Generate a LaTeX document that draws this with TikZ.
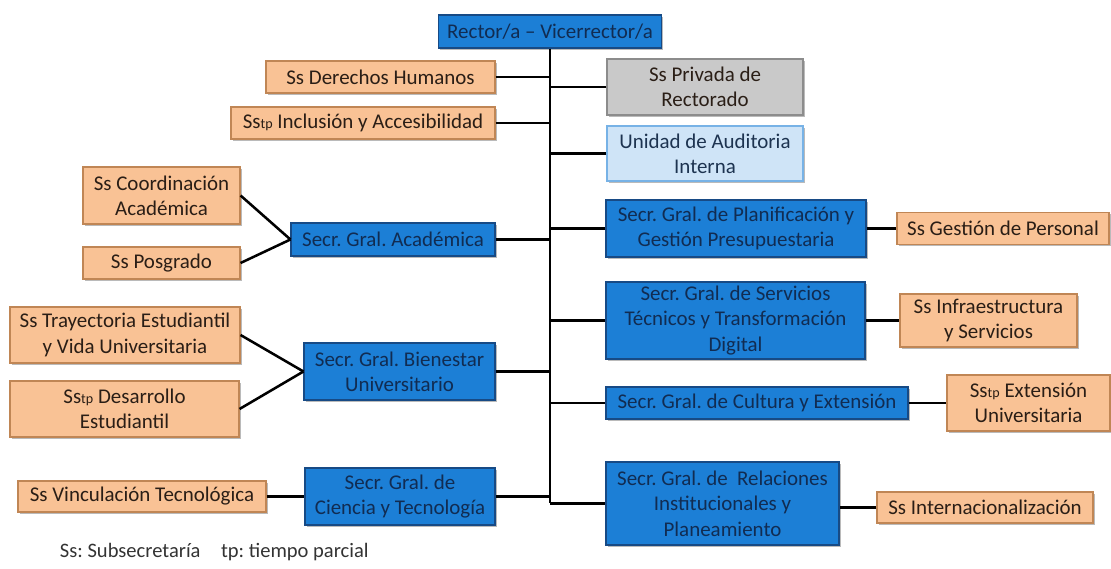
\documentclass[tikz,border=0pt]{standalone}
\usepackage{fontspec}
\setmainfont{Carlito}
\usepackage{xcolor}
\usetikzlibrary{shadows}
\frenchspacing

\definecolor{subfill}{HTML}{F9C295}
\definecolor{subdraw}{HTML}{C08655}
\definecolor{subtext}{HTML}{2A1E16}
\definecolor{secfill}{HTML}{1C7FD6}
\definecolor{secdraw}{HTML}{174A85}
\definecolor{sectext}{HTML}{112C52}
\definecolor{privfill}{HTML}{C9C9C9}
\definecolor{audfill}{HTML}{CFE4F7}
\definecolor{audtext}{HTML}{1D3350}

\newcommand{\tp}{{\fontsize{10}{10}\selectfont tp}}

\tikzset{
  sz/.style 2 args={minimum width=#1*0.025cm, minimum height=#2*0.025cm},
  box/.style={rectangle, draw, line width=0.8pt, align=center, inner sep=0pt,
    font=\fontsize{14.9}{18}\selectfont,
    drop shadow={shadow xshift=1.2pt, shadow yshift=-1.2pt, fill=black!45, opacity=0.6}},
  subbox/.style={box, fill=subfill, draw=subdraw, text=subtext},
  secbox/.style={box, fill=secfill, draw=secdraw, text=sectext},
  privbox/.style={box, fill=privfill, draw=black!45, text=subtext},
  audbox/.style={box, fill=audfill, draw=secfill!60, text=audtext},
  link/.style={line width=1.8pt, black}
}

\begin{document}
\begin{tikzpicture}[x=0.025cm, y=-0.025cm]
	\useasboundingbox (0,0) rectangle (1111,569);
	
	% top
	\node[secbox, sz={223}{33}] (rector) at (550,31.5) {Rector/a -- Vicerrector/a};
	\coordinate (bot) at (550,503.5);
	
	% left column
	\node[subbox, sz={229}{32}] (derechos) at (380.5,77) {Ss Derechos Humanos};
	\node[subbox, sz={264}{32}] (inclusion) at (363,123) {Ss\tp{} Inclusión y Accesibilidad};
	
	\node[subbox, sz={157}{57}] (coordinacion) at (161.5,195.5) {Ss Coordinación\\Académica};
	\node[subbox, sz={157}{32}] (posgrado) at (161.5,263) {Ss Posgrado};
	\node[secbox, sz={204}{33}] (academica) at (393,239.5) {Secr. Gral. Académica};
	
	\node[subbox, sz={230}{56}] (trayectoria) at (125,335) {Ss Trayectoria Estudiantil\\y Vida Universitaria};
	\node[subbox, sz={229}{56}] (desarrollo) at (124.5,409) {Ss\tp{} Desarrollo\\Estudiantil};
	\node[secbox, sz={191}{57}] (bienestar) at (399.5,371.5) {Secr. Gral. Bienestar\\Universitario};
	
	\node[subbox, sz={248}{31}] (vinculacion) at (142,496.5) {Ss Vinculación Tecnológica};
	\node[secbox, sz={190}{57}] (ciencia) at (400,496.5) {Secr. Gral. de\\Ciencia y Tecnología};
	
	% right column
	\node[privbox, sz={196}{56}] (privada) at (705,87) {Ss Privada de\\Rectorado};
	\node[audbox, sz={196}{55}] (auditoria) at (705,153.5) {Unidad de Auditoria\\Interna};
	
	\node[secbox, sz={260}{57}] (planificacion) at (736,228.5) {Secr. Gral. de Planificación y\\Gestión Presupuestaria};
	\node[subbox, sz={212}{32}] (gestion) at (1003,228.5) {Ss Gestión de Personal};
	
	\node[secbox, sz={259}{77}] (servicios) at (735.5,320.5) {Secr. Gral. de Servicios\\Técnicos y Transformación\\Digital};
	\node[subbox, sz={177}{53}] (infraestructura) at (988.5,320.5) {Ss Infraestructura\\y Servicios};
	
	\node[secbox, sz={302}{32}] (cultura) at (757,403) {Secr. Gral. de Cultura y Extensión};
	\node[subbox, sz={163}{56}] (extension) at (1028.5,403) {Ss\tp{} Extensión\\Universitaria};
	
	\node[secbox, sz={233}{83}] (relaciones) at (722.5,503.5) {Secr. Gral. de~~Relaciones\\Institucionales y\\Planeamiento};
	\node[subbox, sz={216}{31}] (internacional) at (985,507.5) {Ss Internacionalización};
	
	% footer
	\node[anchor=west, text=black!80, font=\fontsize{14.6}{17}\selectfont] (nota) at (55,552) {Ss: Subsecretaría\quad tp: tiempo parcial};
	
	% spine
	\draw[link] (rector.south) -- (bot);
	
	\draw[link] (derechos.east) -- (derechos -| bot);
	\draw[link] (inclusion.east) -- (inclusion -| bot);
	\draw[link] (academica.east) -- (academica -| bot);
	\draw[link] (bienestar.east) -- (bienestar -| bot);
	\draw[link] (ciencia.east) -- (ciencia -| bot);
	
	\draw[link] (privada.west) -- (privada -| bot);
	\draw[link] (auditoria.west) -- (auditoria -| bot);
	\draw[link] (planificacion.west) -- (planificacion -| bot);
	\draw[link] (servicios.west) -- (servicios -| bot);
	\draw[link] (cultura.west) -- (cultura -| bot);
	\draw[link] (relaciones.west) -- (bot);
	
	% sub-branches
	\draw[link] (coordinacion.east) -- (academica.west);
	\draw[link] (posgrado.east) -- (academica.west);
	\draw[link] (trayectoria.east) -- (bienestar.west);
	\draw[link] (desarrollo.east) -- (bienestar.west);
	\draw[link] (vinculacion.east) -- (ciencia.west);
	
	\draw[link] (planificacion.east) -- (gestion.west);
	\draw[link] (servicios.east) -- (infraestructura.west);
	\draw[link] (cultura.east) -- (extension.west);
	\draw[link] (internacional.west) -- (internacional -| relaciones.east);
\end{tikzpicture}
\end{document}
